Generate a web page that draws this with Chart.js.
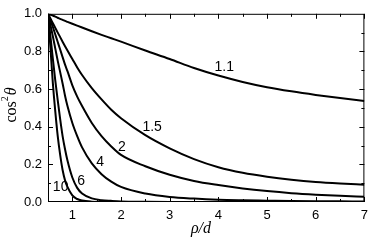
<!DOCTYPE html>
<html>
<head>
<meta charset="utf-8">
<script src="https://cdn.jsdelivr.net/npm/chart.js@4"></script>
<style>
  html, body { margin: 0; padding: 0; background: #fff; }
  #wrap { position: relative; width: 374px; height: 241px; }
</style>
</head>
<body>
<div id="wrap"><canvas id="c"></canvas></div>
<script>
// ── data ──────────────────────────────────────────────────────────────────
const rho = [0.5, 0.55, 0.6, 0.65, 0.7, 0.75, 0.8, 0.85, 0.9, 1.0, 1.1, 1.2, 1.4, 1.6, 1.8, 2.0, 2.5, 3, 3.5, 4, 4.5, 5, 5.5, 6, 6.5, 7];

const curve1_1 = [1.0, 0.995, 0.99, 0.985, 0.979, 0.973, 0.968, 0.962, 0.957, 0.947, 0.937, 0.927, 0.907, 0.888, 0.870, 0.852, 0.805, 0.760, 0.712, 0.672, 0.638, 0.610, 0.588, 0.569, 0.552, 0.537];
const curve1_5 = [1.0, 0.975, 0.95, 0.925, 0.90, 0.876, 0.852, 0.828, 0.805, 0.76, 0.715, 0.675, 0.605, 0.545, 0.49, 0.445, 0.355, 0.285, 0.228, 0.185, 0.155, 0.134, 0.118, 0.106, 0.098, 0.092];
const curve2   = [1.0, 0.965, 0.93, 0.89, 0.85, 0.81, 0.77, 0.73, 0.695, 0.62, 0.56, 0.51, 0.42, 0.35, 0.295, 0.25, 0.19, 0.145, 0.112, 0.09, 0.072, 0.058, 0.047, 0.039, 0.033, 0.028];
const curve4   = [1.0, 0.94, 0.88, 0.815, 0.75, 0.69, 0.63, 0.565, 0.51, 0.42, 0.35, 0.29, 0.205, 0.148, 0.108, 0.08, 0.045, 0.027, 0.018, 0.012, 0.009, 0.007, 0.005, 0.004, 0.0035, 0.003];
const curve6   = [1.0, 0.88, 0.76, 0.645, 0.54, 0.44, 0.35, 0.28, 0.22, 0.13, 0.075, 0.045, 0.019, 0.01, 0.006, 0.003, 0.001, 0, 0, 0, 0, 0, 0, 0, 0, 0];
const curve10  = [1.0, 0.82, 0.63, 0.48, 0.35, 0.25, 0.17, 0.115, 0.08, 0.035, 0.016, 0.008, 0.002, 0, 0, 0, 0, 0, 0, 0, 0, 0, 0, 0, 0, 0];

const seriesNames = ["1.1", "1.5", "2", "4", "6", "10"];
const seriesData  = [curve1_1, curve1_5, curve2, curve4, curve6, curve10];

const xTicks = [1, 2, 3, 4, 5, 6, 7];
const yTicks = [0, 0.2, 0.4, 0.6, 0.8, 1.0];

// where each curve's label sits, in data units
const labelAt = [[4.12, 0.715], [2.64, 0.40], [2.02, 0.29], [1.57, 0.21], [1.18, 0.109], [0.76, 0.08]];

const SANS  = "'Liberation Sans', Arial, sans-serif";
const SERIF = "'Liberation Serif', 'Times New Roman', serif";

// ── frame : box + inward major/minor ticks, labels, titles ────────────────
const framePlugin = {
  id: "frame",
  afterDraw(chart) {
    const { ctx, chartArea: a, scales: { x, y } } = chart;
    ctx.save();
    ctx.strokeStyle = "#000";
    ctx.lineWidth = 1;
    ctx.strokeRect(a.left + 0.5, a.top + 0.5, a.right - a.left - 1, a.bottom - a.top - 1);
    ctx.beginPath();
    for (let k = 2; k <= 14; k++) {
      const v = k / 2;
      const px = Math.round(x.getPixelForValue(v)) + 0.5;
      const len = k % 2 === 0 ? 5 : 3;
      ctx.moveTo(px, a.bottom); ctx.lineTo(px, a.bottom - len);
      ctx.moveTo(px, a.top);    ctx.lineTo(px, a.top + len);
    }
    for (let i = 1; i < 10; i++) {
      const py = Math.round(y.getPixelForValue(i / 10)) + 0.5;
      const len = i % 2 === 0 ? 5 : 3;
      ctx.moveTo(a.left, py);  ctx.lineTo(a.left + len, py);
      ctx.moveTo(a.right, py); ctx.lineTo(a.right - len, py);
    }
    ctx.stroke();

    // curve labels
    ctx.fillStyle = "#000";
    ctx.font = "14px " + SANS;
    ctx.textAlign = "center";
    ctx.textBaseline = "middle";
    seriesNames.forEach((n, i) => {
      ctx.fillText(n, x.getPixelForValue(labelAt[i][0]), y.getPixelForValue(labelAt[i][1]));
    });

    // axis titles
    ctx.font = "italic 16px " + SERIF;
    ctx.fillText("ρ/d", 201, 229);

    ctx.translate(12, 105);
    ctx.rotate(-Math.PI / 2);
    ctx.textAlign = "left";
    ctx.textBaseline = "middle";
    ctx.font = "16px " + SERIF;
    const w1 = ctx.measureText("cos").width;
    ctx.font = "10px " + SERIF;
    const w2 = ctx.measureText("2").width;
    ctx.font = "italic 16px " + SERIF;
    const w3 = ctx.measureText("θ").width;
    let cx = -(w1 + w2 + w3 + 1) / 2;
    ctx.font = "16px " + SERIF;
    ctx.fillText("cos", cx, 0); cx += w1;
    ctx.font = "10px " + SERIF;
    ctx.fillText("2", cx, -7); cx += w2 + 1;
    ctx.font = "italic 16px " + SERIF;
    ctx.fillText("θ", cx, 0);
    ctx.restore();
  },
};

new Chart(document.getElementById("c"), {
  type: "line",
  data: {
    datasets: seriesData.map((vals, i) => ({
      label: seriesNames[i],
      data: rho.map((r, k) => ({ x: r, y: vals[k] })),
      borderColor: "#000",
      borderWidth: 2,
      pointRadius: 0,
      fill: false,
      cubicInterpolationMode: "monotone",
    })),
  },
  options: {
    responsive: true,
    maintainAspectRatio: false,
    animation: false,
    layout: { padding: { left: 0, right: 6, top: 9, bottom: 0 } },
    plugins: { legend: { display: false }, tooltip: { enabled: false } },
    scales: {
      x: {
        type: "linear",
        min: 0.5,
        max: 7,
        afterBuildTicks: (s) => { s.ticks = xTicks.map((v) => ({ value: v })); },
        afterFit: (s) => { s.height = 39; },
        grid: { display: false, drawTicks: false },
        border: { display: false },
        ticks: {
          color: "#000",
          padding: 6,
          maxRotation: 0,
          font: { size: 13, family: SANS },
        },
      },
      y: {
        type: "linear",
        min: 0,
        max: 1,
        afterBuildTicks: (s) => { s.ticks = yTicks.map((v) => ({ value: v })); },
        afterFit: (s) => { s.width = 48; },
        grid: { display: false, drawTicks: false },
        border: { display: false },
        ticks: {
          color: "#000",
          padding: 6,
          font: { size: 13, family: SANS },
          callback: (v) => Number(v).toFixed(1),
        },
      },
    },
  },
  plugins: [framePlugin],
});
</script>
</body>
</html>
